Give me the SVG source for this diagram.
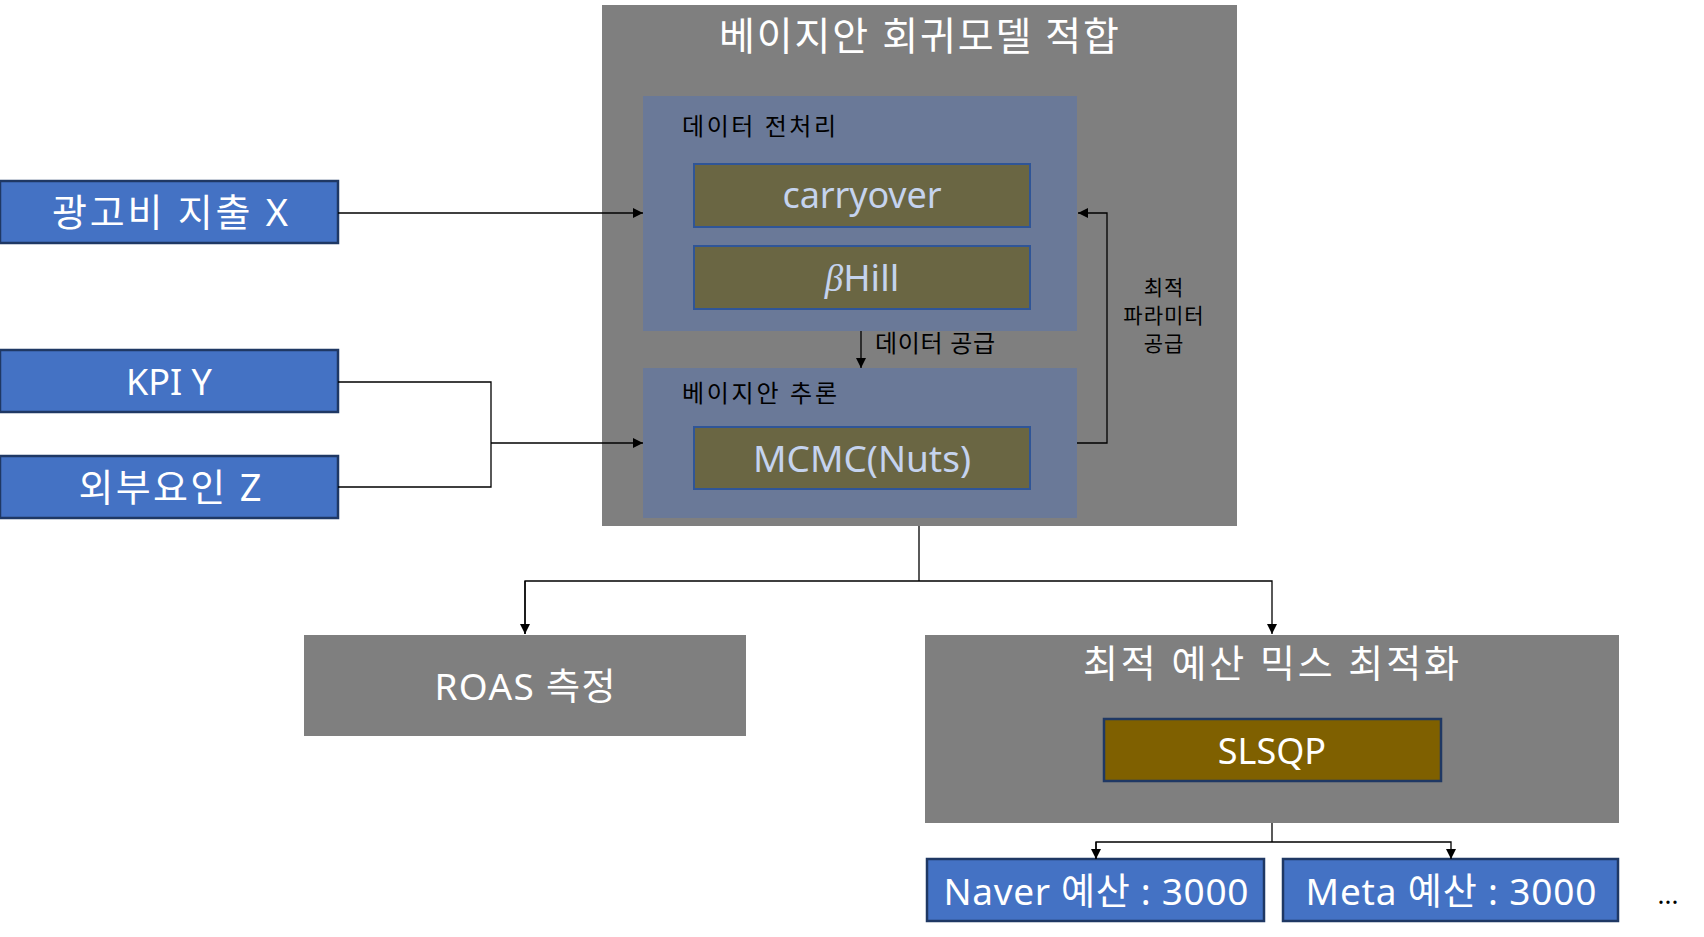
<svg xmlns="http://www.w3.org/2000/svg" width="1704" height="937" viewBox="0 0 1704 937">
<style>
text{font-family:"Noto Sans","Noto Sans CJK KR",sans-serif;}
.gray{fill:#7F7F7F;}
.inner{fill:#6A7998;}
.olive{fill:#6A6643;stroke:#2F5597;stroke-width:2;}
.blue{fill:#4472C4;stroke:#1F3864;stroke-width:2.5;}
.slsqp{fill:#7F6000;stroke:#1F3864;stroke-width:2.5;}
.wt{fill:#FFFFFF;text-anchor:middle;}
.lt{fill:#C5D3EE;text-anchor:middle;}
.bk{fill:#000000;}
.side{fill:#000000;text-anchor:middle;font-size:21px;letter-spacing:1px;}
.conn{fill:none;stroke:#000;stroke-width:1.3;}
</style>
<defs>
<marker id="ah" viewBox="0 0 10 10" refX="10" refY="5" markerWidth="10" markerHeight="10" markerUnits="userSpaceOnUse" orient="auto">
<path d="M0,0 L10,5 L0,10 z" fill="#000"/>
</marker>
</defs>
<rect width="1704" height="937" fill="#FFFFFF"/>

<g id="bayes-fit">
<rect class="gray" x="602" y="5" width="635" height="521"/>
<text class="wt" x="919" y="50" font-size="39" textLength="400" lengthAdjust="spacing">베이지안 회귀모델 적합</text>
</g>
<g id="preprocess">
<rect class="inner" x="643" y="96" width="434" height="235"/>
<text class="bk" x="682" y="135" font-size="24" textLength="154" lengthAdjust="spacing">데이터 전처리</text>
</g>
<g id="carryover">
<rect class="olive" x="694" y="164" width="336" height="63"/>
<text class="lt" x="862" y="208" font-size="36" textLength="159" lengthAdjust="spacing">carryover</text>
</g>
<g id="hill">
<rect class="olive" x="694" y="246" width="336" height="63"/>
<text class="lt" x="862" y="291" font-size="37"><tspan font-family="'Liberation Serif',serif" font-style="italic">β</tspan>Hill</text>
</g>
<g id="inference">
<rect class="inner" x="643" y="368" width="434" height="150"/>
<text class="bk" x="682" y="402" font-size="24" textLength="155" lengthAdjust="spacing">베이지안 추론</text>
</g>
<g id="mcmc">
<rect class="olive" x="694" y="427" width="336" height="62"/>
<text class="lt" x="862" y="472" font-size="37" textLength="218" lengthAdjust="spacing">MCMC(Nuts)</text>
</g>

<g id="ad-spend">
<rect class="blue" x="0" y="181" width="338" height="62"/>
<text class="wt" x="170" y="226" font-size="38" textLength="236" lengthAdjust="spacing">광고비 지출 X</text>
</g>
<g id="kpi">
<rect class="blue" x="0" y="350" width="338" height="62"/>
<text class="wt" x="169" y="395" font-size="36">KPI Y</text>
</g>
<g id="external">
<rect class="blue" x="0" y="456" width="338" height="62"/>
<text class="wt" x="170" y="501" font-size="38" textLength="183" lengthAdjust="spacing">외부요인 Z</text>
</g>

<g id="roas">
<rect class="gray" x="304" y="635" width="442" height="101"/>
<text class="wt" x="525" y="700" font-size="37" textLength="181" lengthAdjust="spacing">ROAS 측정</text>
</g>
<g id="budget-opt">
<rect class="gray" x="925" y="635" width="694" height="188"/>
<text class="wt" x="1271" y="677" font-size="38" textLength="376" lengthAdjust="spacing">최적 예산 믹스 최적화</text>
</g>
<g id="slsqp">
<rect class="slsqp" x="1104" y="719" width="337" height="62"/>
<text class="wt" x="1272" y="764" font-size="36">SLSQP</text>
</g>
<g id="naver">
<rect class="blue" x="927" y="859" width="337" height="62"/>
<text class="wt" x="1096" y="905" font-size="37" textLength="305" lengthAdjust="spacing">Naver 예산 : 3000</text>
</g>
<g id="meta">
<rect class="blue" x="1283" y="859" width="335" height="62"/>
<text class="wt" x="1451" y="905" font-size="37" textLength="291" lengthAdjust="spacing">Meta 예산 : 3000</text>
</g>
<g id="ellipsis">
<text x="1668" y="904" font-size="26" class="bk" text-anchor="middle">...</text>
</g>

<g id="connectors">
<path class="conn" d="M338,213 L643,213" marker-end="url(#ah)"/>
<path class="conn" d="M338,382 L491,382 L491,487 L338,487"/>
<path class="conn" d="M491,443 L643,443" marker-end="url(#ah)"/>
<path class="conn" d="M861,331 L861,368" marker-end="url(#ah)"/>
<path class="conn" d="M1077,443 L1107,443 L1107,213 L1078,213" stroke="#333" marker-end="url(#ah)"/>
<path class="conn" d="M919,526 L919,581"/>
<path class="conn" d="M525,634 L525,581 L1272,581 L1272,634" marker-end="url(#ah)"/>
<path class="conn" d="M525,581 L525,634" marker-end="url(#ah)"/>
<path class="conn" d="M1272,823 L1272,842"/>
<path class="conn" d="M1096,859 L1096,842 L1451,842 L1451,859" marker-end="url(#ah)"/>
<path class="conn" d="M1096,842 L1096,859" marker-end="url(#ah)"/>
</g>
<g id="labels">
<text class="bk" x="875" y="352" font-size="24" textLength="120" lengthAdjust="spacing">데이터 공급</text>
<text class="side" x="1164" y="295">최적</text>
<text class="side" x="1164" y="323">파라미터</text>
<text class="side" x="1164" y="351">공급</text>
</g>
</svg>
